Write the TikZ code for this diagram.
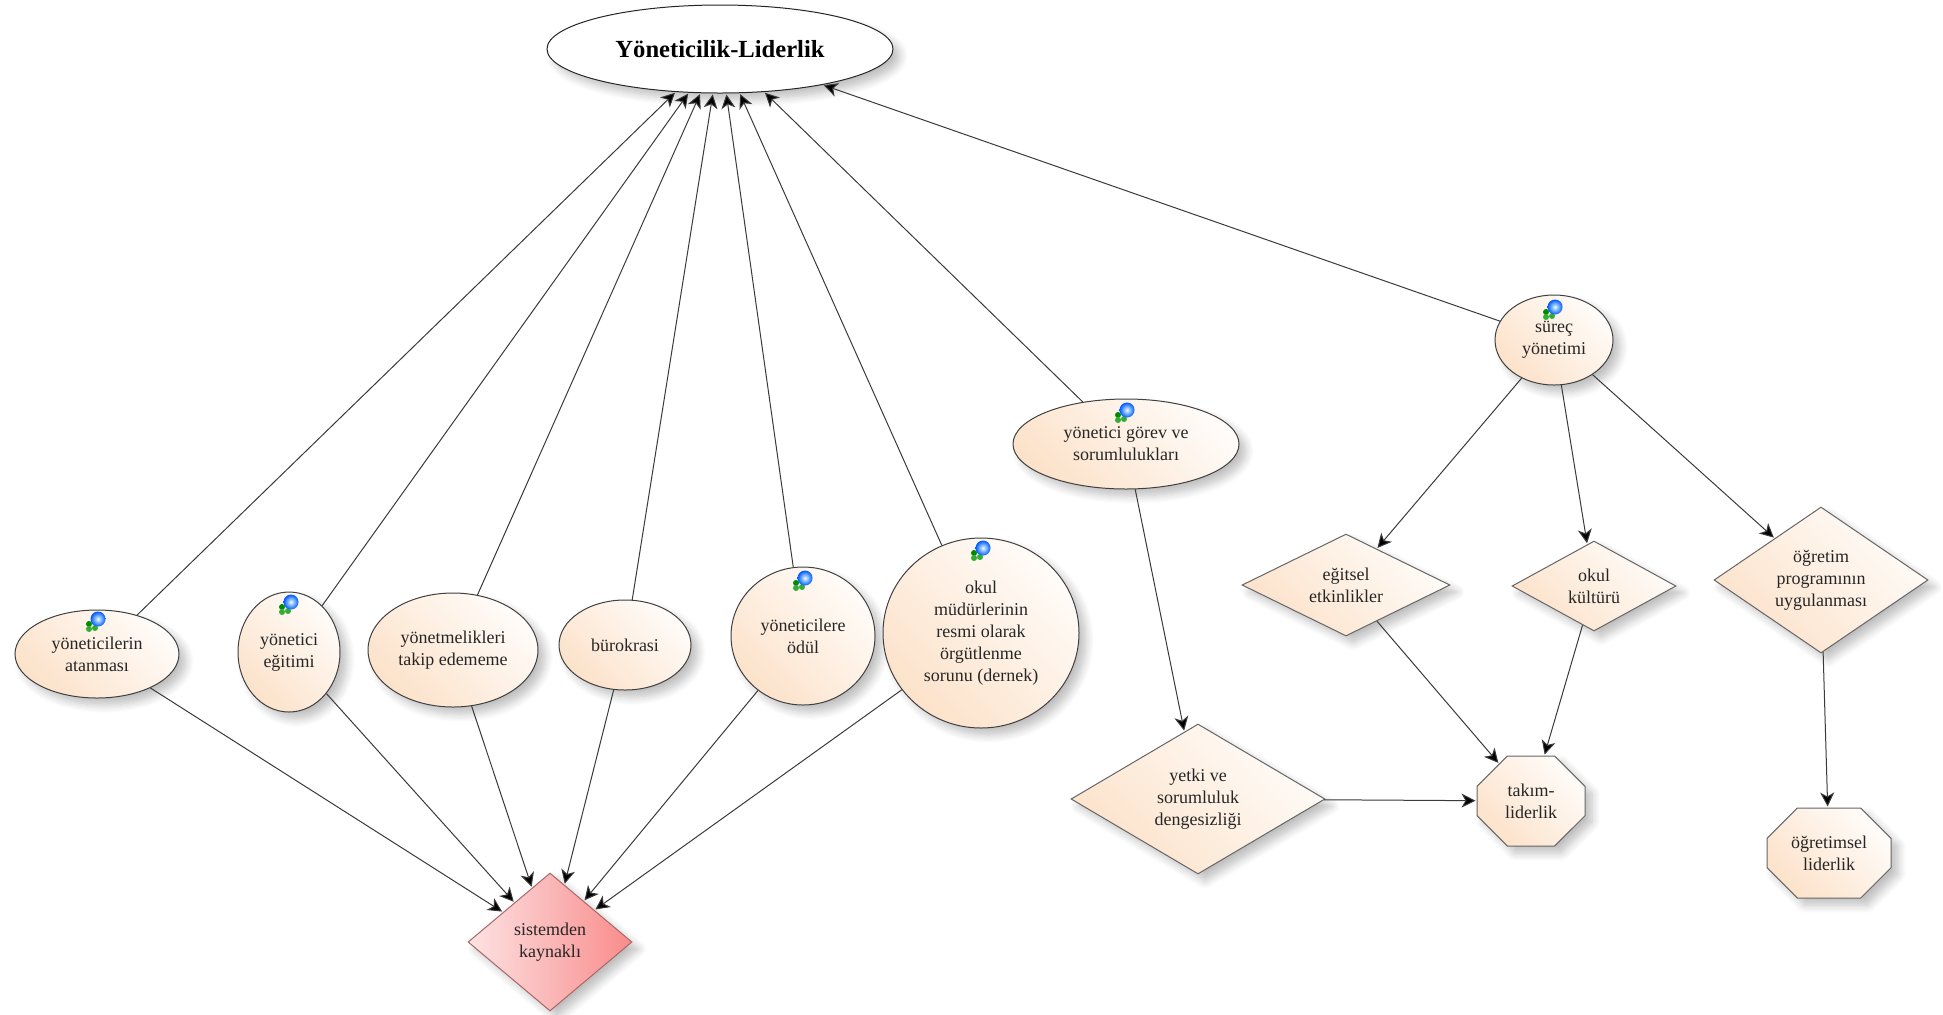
\documentclass[tikz,border=0pt]{standalone}
\usepackage{fontspec}
\setmainfont{Liberation Serif}
\usetikzlibrary{arrows.meta, shapes.geometric, shapes.misc, shadows.blur}

\definecolor{peachlight}{HTML}{FFFCF9}
\definecolor{peachdark}{HTML}{FCE2CA}
\definecolor{pinklight}{HTML}{FDE3E3}
\definecolor{pinkdark}{HTML}{F98B8B}
\definecolor{linegray}{HTML}{3A3A3A}

\tikzset{
	softshadow/.style = {blur shadow = {shadow xshift = 3.5pt, shadow yshift = -3.5pt, shadow blur radius = 4pt, shadow blur steps = 8, shadow opacity = 25}},
	peachfill/.style = {draw = black!75, line width = 0.5pt, left color = peachlight, right color = peachdark, shading angle = -45, softshadow, inner sep = 0, align = center, text = black!85, font = \fontsize{9}{11}\selectfont},
	oval/.style = {peachfill, ellipse},
	rhomb/.style = {peachfill, diamond, draw = black!60},
	octa/.style = {peachfill, chamfered rectangle, draw = black!60},
	arrowline/.style = {->, draw = linegray, line width = 0.5pt, shorten > = 0.5pt},
	badge/.pic = {
		\fill [green!55!black] (-9, 5) circle (3);
		\fill [green!60!black!80] (-3, 9) circle (3);
		\fill [green!60!black!80] (-9, 10) circle (3);
		\shade [inner color = cyan!10, outer color = blue!65!cyan] (0, 0) circle (7.5);
	}
}

\begin{document}

\begin{tikzpicture}[x = 0.5pt, y = -0.5pt, > = {Stealth[length = 7pt, width = 7pt, inset = 2pt, fill = black]}]

	\useasboundingbox (0, 0) rectangle (1943, 1014);

	% Top ellipse
	
	\node [draw = black!85, fill = white, ellipse, softshadow, inner sep = 0, line width = 0.5pt, minimum width = 173pt, minimum height = 44pt, font = \fontsize{12.3}{14}\selectfont\bfseries] (root) at (720, 49) {Yöneticilik-Liderlik};

	% Left column of ellipses
	
	\node [oval, minimum width = 82pt, minimum height = 44pt] (atanma) at (97, 654) {yöneticilerin\\atanması};
	\node [oval, minimum width = 51pt, minimum height = 60pt] (egitimi) at (289, 652) {yönetici\\eğitimi};
	\node [oval, minimum width = 85pt, minimum height = 57pt] (yonetmelik) at (453, 650) {yönetmelikleri\\takip edememe};
	\node [oval, minimum width = 66pt, minimum height = 45pt] (burokrasi) at (625, 645) {bürokrasi};
	\node [oval, minimum width = 72pt, minimum height = 69pt] (odul) at (803, 636) {yöneticilere\\ödül};
	\node [oval, minimum width = 98pt, minimum height = 95pt] (dernek) at (981, 633) {okul\\müdürlerinin\\resmi olarak\\örgütlenme\\sorunu (dernek)};

	% Red diamond
	
	\node [rhomb, draw = red!45!black!60, left color = pinklight, right color = pinkdark, minimum width = 82pt, minimum height = 69pt] (sistem) at (550, 942) {sistemden\\kaynaklı};

	% Right side
	
	\node [oval, minimum width = 113pt, minimum height = 45pt] (gorev) at (1126, 444) {yönetici görev ve\\sorumlulukları};
	\node [oval, minimum width = 59pt, minimum height = 45pt] (surec) at (1554, 340) {süreç\\yönetimi};
	
	\node [rhomb, aspect = 2, minimum width = 104pt, minimum height = 51pt] (etkinlik) at (1346, 585) {eğitsel\\etkinlikler};
	\node [rhomb, aspect = 1.8, minimum width = 82pt, minimum height = 45pt] (kultur) at (1594, 586) {okul\\kültürü};
	\node [rhomb, aspect = 1.45, minimum width = 107pt, minimum height = 73pt] (program) at (1821, 580) {öğretim\\programının\\uygulanması};
	\node [rhomb, aspect = 1.7, minimum width = 127pt, minimum height = 75pt] (yetki) at (1198, 799) {yetki ve\\sorumluluk\\dengesizliği};
	
	\node [octa, chamfered rectangle xsep = 16pt, chamfered rectangle ysep = 6.5pt, minimum width = 54pt, minimum height = 45pt] (takim) at (1531, 801) {takım-\\liderlik};
	\node [octa, chamfered rectangle xsep = 18pt, chamfered rectangle ysep = 6.5pt, minimum width = 62pt, minimum height = 45pt] (ogretimsel) at (1829, 853) {öğretimsel\\liderlik};

	% Small icons on the ellipses
	
	\pic at (98, 619) {badge};
	\pic at (291, 602) {badge};
	\pic at (805, 578) {badge};
	\pic at (983, 548) {badge};
	\pic at (1127, 410) {badge};
	\pic at (1555, 307) {badge};

	% Arrows to the top ellipse
	
	\begin{scope}[arrowline]
	
		\draw (atanma) -- (root);
		\draw (egitimi) -- (root);
		\draw (yonetmelik) -- (root);
		\draw (burokrasi) -- (root);
		\draw (odul) -- (root);
		\draw (dernek) -- (root);
		\draw (gorev) -- (root);
		\draw (surec) -- (root);

	\end{scope}

	% Arrows to the red diamond
	
	\begin{scope}[arrowline]
	
		\draw (atanma) -- (sistem);
		\draw (egitimi) -- (sistem);
		\draw (yonetmelik) -- (sistem);
		\draw (burokrasi) -- (sistem);
		\draw (odul) -- (sistem);
		\draw (dernek) -- (sistem);

	\end{scope}

	% Remaining arrows
	
	\begin{scope}[arrowline]
	
		\draw (surec) -- (etkinlik);
		\draw (surec) -- (kultur);
		\draw (surec) -- (program);
		\draw (gorev) -- (yetki);
		\draw (etkinlik) -- (takim);
		\draw (kultur) -- (takim);
		\draw (yetki) -- (takim);
		\draw (program) -- (ogretimsel);

	\end{scope}

\end{tikzpicture}

\end{document}
